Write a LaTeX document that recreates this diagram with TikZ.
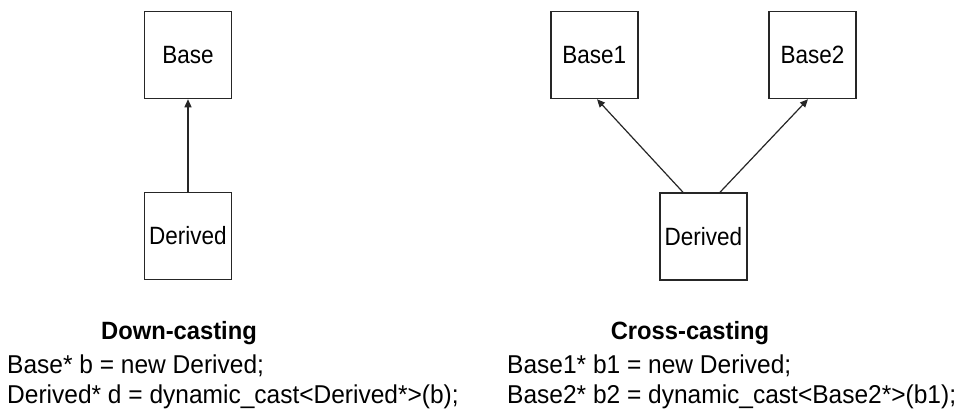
\documentclass[tikz,border=0pt]{standalone}
\usepackage{fontspec}
\setmainfont{Liberation Sans}
\newfontfamily\boxfont[FakeStretch=0.9]{Liberation Sans}
\newfontfamily\codefont[FakeStretch=0.95]{Liberation Sans}
\usetikzlibrary{arrows.meta}
\begin{document}
\begin{tikzpicture}[x=1pt,y=-1pt,
  cls/.style={draw=black!85,line width=1.5pt,minimum width=87pt,minimum height=87pt,inner sep=0pt,
    font=\boxfont\fontsize{25}{28}\selectfont},
  inh/.style={draw=black!85,line width=1.2pt,-{Triangle[length=8pt,width=7pt]}},
  head/.style={anchor=base,inner sep=0pt,font=\codefont\fontsize{25}{28}\selectfont\bfseries},
  code/.style={anchor=base west,inner sep=0pt,font=\codefont\fontsize{25.8}{28}\selectfont}]
\useasboundingbox (0,0) rectangle (967,413);
\fill[white] (0,0) rectangle (967,413);
% left
\node[cls] (base) at (188,55) {Base};
\node[cls] (derL) at (188,236) {Derived};
\draw[inh] (derL.north) -- (base.south);
\node[head] (hL) at (179,339) {Down-casting};
\node[code] (cL1) at (7,373) {Base* b = new Derived;};
\node[code] (cL2) at (7,403) {Derived* d = dynamic\_cast<Derived*>(b);};
% right
\node[cls] (base1) at (594.3,55) {Base1};
\node[cls] (base2) at (812.5,55) {Base2};
\node[cls] (derR) at (703.5,236.5) {Derived};
\draw[inh] ([xshift=-20.5pt]derR.north) -- ([xshift=2.7pt]base1.south);
\draw[inh] ([xshift=16.5pt]derR.north) -- ([xshift=-4.5pt]base2.south);
\node[head] (hR) at (690,339) {Cross-casting};
\node[code] (cR1) at (507,373) {Base1* b1 = new Derived;};
\node[code] (cR2) at (507,403) {Base2* b2 = dynamic\_cast<Base2*>(b1);};
\end{tikzpicture}
\end{document}
